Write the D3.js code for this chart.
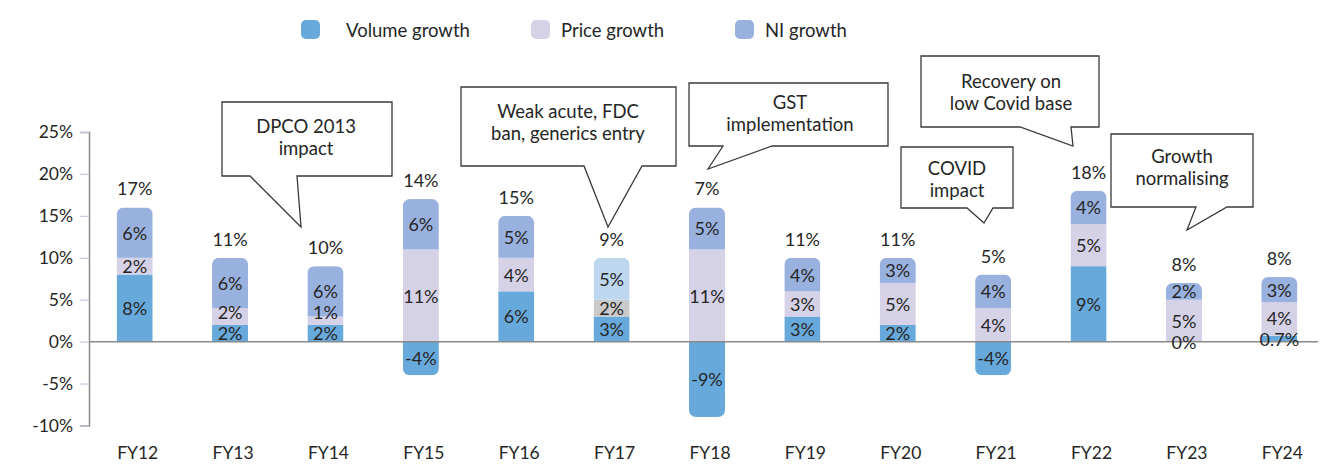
<!DOCTYPE html>
<html>
<head>
<meta charset="utf-8">
<script src="https://cdn.jsdelivr.net/npm/d3@7"></script>
<style>
  html, body { margin: 0; padding: 0; background: #ffffff; }
  svg { display: block; font-family: Lato, "Noto Sans", sans-serif; }
</style>
</head>
<body>
<svg id="chart" width="1339" height="464"></svg>
<script>
// Growth decomposition of the market, FY12–FY24 (percent)
const categories = ["FY12", "FY13", "FY14", "FY15", "FY16", "FY17", "FY18",
                    "FY19", "FY20", "FY21", "FY22", "FY23", "FY24"];
const volumeGrowth = [8, 2, 2, -4, 6, 3, -9, 3, 2, -4, 9, 0, 0.7];
const priceGrowth  = [2, 2, 1, 11, 4, 2, 11, 3, 5, 4, 5, 5, 4];
const niGrowth     = [6, 6, 6, 6, 5, 5, 5, 4, 3, 4, 4, 2, 3];
const totalGrowth  = [17, 11, 10, 14, 15, 9, 7, 11, 11, 5, 18, 8, 8];
const yTicks = [-10, -5, 0, 5, 10, 15, 20, 25];

const seriesKeys  = ["volume", "price", "ni"];
const seriesNames = ["Volume growth", "Price growth", "NI growth"];

// Event call-outs: text lines and the year each one refers to
const noteTexts = [
  ["DPCO 2013", "impact"],
  ["Weak acute, FDC", "ban, generics entry"],
  ["GST", "implementation"],
  ["Recovery on", "low Covid base"],
  ["COVID", "impact"],
  ["Growth", "normalising"]
];
const noteYears = ["FY14", "FY17", "FY18", "FY22", "FY21", "FY23"];

// ---- styling ----
const colours = { volume: "#68a9dc", price: "#d5d1e7", ni: "#99b1de" };
const fy17Colours = { volume: "#68a9dc", price: "#cacaca", ni: "#bdd7ef" };
const textColour = "#262626";

// call-out geometry: box [x0, y0, x1, y1], pointer base [xa, xb], pointer tip [tx, ty], text centre & baselines
const noteLayout = [
  { box: [222, 102, 392, 176], base: [250, 297], tip: [301, 227], cx: 306, lines: [133, 155] },
  { box: [461, 87, 676, 166],  base: [584, 642], tip: [608, 227], cx: 568, lines: [118, 140] },
  { box: [689, 83, 888, 146],  base: [723, 772], tip: [708, 169], cx: 790, lines: [109, 131] },
  { box: [921, 56, 1099, 127], base: [1020, 1071], tip: [1073, 146], cx: 1011, lines: [88, 110] },
  { box: [901, 147, 1013, 208], base: [967, 993], tip: [984, 223], cx: 957, lines: [175, 197] },
  { box: [1111, 134, 1253, 207], base: [1196, 1227], tip: [1187, 230], cx: 1182, lines: [163, 185] }
];

const svg = d3.select("#chart");

const x = d3.scaleBand()
  .domain(categories)
  .range([89, 1325])
  .paddingInner(0.622)
  .paddingOuter(0.29);

const y = d3.scaleLinear()
  .domain([-10, 25])
  .range([425.5, 132]);

// ---- stacked data ----
const rows = categories.map((c, i) => ({
  cat: c, volume: volumeGrowth[i], price: priceGrowth[i], ni: niGrowth[i], total: totalGrowth[i]
}));

const stacked = d3.stack()
  .keys(seriesKeys)
  .offset(d3.stackOffsetDiverging)(rows);

const fmt = v => (Number.isInteger(v) ? String(v) : v.toFixed(1)) + "%";

// ---- y axis ----
const yAxis = svg.append("g")
  .attr("transform", "translate(89,0)")
  .call(d3.axisLeft(y).tickValues(yTicks).tickSize(9).tickPadding(7).tickFormat(d => d + "%"));
yAxis.select(".domain").attr("stroke", "#8a8a8a").attr("stroke-width", 1.5);
yAxis.selectAll(".tick line").attr("stroke", "#c9c9de").attr("stroke-width", 1.2);
yAxis.selectAll(".tick text")
  .attr("fill", textColour)
  .style("font-size", "17.5px")
  .style("font-family", "Lato, sans-serif");

// ---- bars with rounded outer ends ----
const defs = svg.append("defs");
const barGroup = svg.append("g");

rows.forEach((r, i) => {
  const posTop = d3.sum(seriesKeys, k => Math.max(0, r[k]));
  const negBot = d3.sum(seriesKeys, k => Math.min(0, r[k]));
  const yTop = posTop > 0 ? y(posTop) : y(0) - 10;
  const yBot = negBot < 0 ? y(negBot) : y(0) + 10;
  defs.append("clipPath").attr("id", "clip-" + i)
    .append("rect")
    .attr("x", x(r.cat)).attr("width", x.bandwidth())
    .attr("y", yTop).attr("height", yBot - yTop)
    .attr("rx", 7).attr("ry", 7);
});

stacked.forEach(layer => {
  const key = layer.key;
  layer.forEach((d, i) => {
    const cat = categories[i];
    const fill = cat === "FY17" ? fy17Colours[key] : colours[key];
    barGroup.append("rect")
      .attr("clip-path", "url(#clip-" + i + ")")
      .attr("x", x(cat))
      .attr("width", x.bandwidth())
      .attr("y", y(Math.max(d[0], d[1])))
      .attr("height", Math.abs(y(d[0]) - y(d[1])))
      .attr("fill", fill);
  });
});

// ---- zero line ----
svg.append("line")
  .attr("x1", 89).attr("x2", 1318)
  .attr("y1", y(0)).attr("y2", y(0))
  .attr("stroke", "#8a8a8a").attr("stroke-width", 1.5);

// ---- segment labels (nudged apart where segments are thin) ----
const labelGroup = svg.append("g")
  .attr("fill", textColour)
  .attr("text-anchor", "middle")
  .style("font-size", "18px");

const minGap = 21;
categories.forEach((cat, i) => {
  const items = stacked.map(layer => {
    const d = layer[i];
    return { v: rows[i][layer.key], cy: (y(d[0]) + y(d[1])) / 2 };
  }).sort((a, b) => b.cy - a.cy);          // bottom first
  for (let j = 1; j < items.length; j++) {
    if (items[j - 1].cy - items[j].cy < minGap) items[j].cy = items[j - 1].cy - minGap;
  }
  items.forEach(it => {
    labelGroup.append("text")
      .attr("x", x(cat) + x.bandwidth() / 2)
      .attr("y", it.cy + 7)
      .text(fmt(it.v));
  });
});

// ---- totals above bars ----
rows.forEach(r => {
  const posTop = d3.sum(seriesKeys, k => Math.max(0, r[k]));
  labelGroup.append("text")
    .attr("x", x(r.cat) + x.bandwidth() / 2)
    .attr("y", y(posTop) - 12)
    .text(fmt(r.total));
});

// ---- x labels ----
svg.append("g")
  .attr("fill", textColour)
  .attr("text-anchor", "middle")
  .style("font-size", "17.5px")
  .selectAll("text")
  .data(categories)
  .join("text")
  .attr("x", d => x(d) + x.bandwidth() / 2 + 3)
  .attr("y", 459)
  .text(d => d);

// ---- legend ----
const legendX = [301, 531, 735];
const legend = svg.append("g");
seriesKeys.forEach((k, i) => {
  legend.append("rect")
    .attr("x", legendX[i]).attr("y", 20)
    .attr("width", 19).attr("height", 19)
    .attr("rx", 5).attr("ry", 5)
    .attr("fill", colours[k]);
  legend.append("text")
    .attr("x", legendX[i] + (i === 0 ? 45 : 30))
    .attr("y", 37)
    .attr("fill", textColour)
    .style("font-size", "18.5px")
    .text(seriesNames[i]);
});

// ---- call-outs ----
const notes = svg.append("g");
noteLayout.forEach((n, i) => {
  const [x0, y0, x1, y1] = n.box;
  const path = d3.path();
  path.moveTo(x0, y0);
  path.lineTo(x1, y0);
  path.lineTo(x1, y1);
  path.lineTo(n.base[1], y1);
  path.lineTo(n.tip[0], n.tip[1]);
  path.lineTo(n.base[0], y1);
  path.lineTo(x0, y1);
  path.closePath();
  notes.append("path")
    .attr("d", path.toString())
    .attr("fill", "#ffffff")
    .attr("stroke", "#3a3a3a")
    .attr("stroke-width", 1.3)
    .attr("stroke-linejoin", "miter");
  noteTexts[i].forEach((line, j) => {
    notes.append("text")
      .attr("x", n.cx)
      .attr("y", n.lines[j])
      .attr("text-anchor", "middle")
      .attr("fill", textColour)
      .style("font-size", "18.5px")
      .text(line);
  });
});
</script>
</body>
</html>
